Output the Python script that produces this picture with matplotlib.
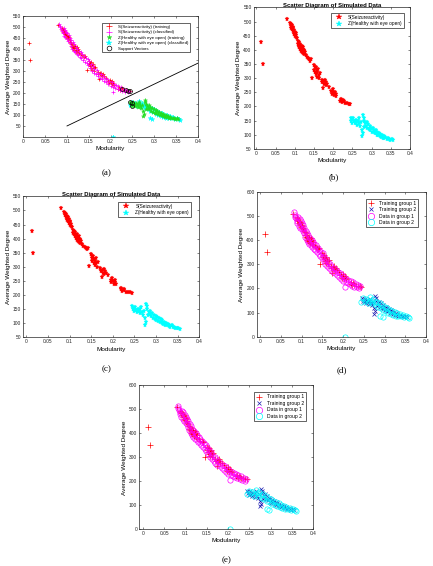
import numpy as np
import matplotlib
matplotlib.use("Agg")
import matplotlib.pyplot as plt

plt.rcParams['font.family'] = ['Liberation Sans', 'DejaVu Sans']

# S (seizure activity) training points: modularity, average weighted degree
s_train_mod = [0.012, 0.016, 0.080,
               0.088, 0.089, 0.090, 0.091, 0.092, 0.093, 0.094, 0.095, 0.096, 0.097, 0.098,
               0.099, 0.100, 0.101, 0.102, 0.103, 0.104,
               0.106, 0.108, 0.109, 0.110, 0.111, 0.112, 0.113, 0.114, 0.115, 0.116, 0.117,
               0.118, 0.119, 0.120, 0.121, 0.122, 0.123, 0.124, 0.125, 0.127, 0.128,
               0.132, 0.135, 0.138, 0.140, 0.142,
               0.145, 0.150, 0.151, 0.152, 0.153, 0.155, 0.156, 0.157, 0.158, 0.159, 0.160,
               0.162, 0.163, 0.165,
               0.170, 0.172, 0.174, 0.175, 0.177, 0.179, 0.180, 0.182, 0.185, 0.190,
               0.195, 0.197, 0.199, 0.200, 0.202, 0.204, 0.206, 0.208,
               0.218, 0.220, 0.222, 0.225, 0.227, 0.230, 0.235, 0.240, 0.244]
s_train_deg = [426, 350, 510,
               494, 485, 490, 478, 486, 472, 481, 468, 476, 462, 470,
               455, 463, 450, 458, 445, 452,
               440, 432, 420, 428, 415, 410, 422, 402, 412, 396, 408,
               415, 392, 402, 388, 410, 396, 385, 400, 392, 380,
               375, 370, 368, 362, 366,
               302, 345, 330, 338, 322, 340, 315, 328, 305, 320, 332,
               312, 300, 318,
               295, 285, 265, 290, 280, 292, 275, 285, 278, 270,
               255, 245, 260, 250, 240, 252, 245, 238,
               220, 225, 215, 222, 218, 212, 212, 210, 208]

# S test data (classified as group 1)
s_test_mod = [0.082, 0.083, 0.085, 0.086, 0.088, 0.090, 0.092, 0.093, 0.095, 0.096,
              0.098, 0.100, 0.101, 0.103, 0.104, 0.106, 0.107, 0.109, 0.110, 0.112,
              0.113, 0.115, 0.116, 0.118, 0.120, 0.122, 0.124, 0.126, 0.128, 0.130,
              0.131, 0.133, 0.135, 0.137, 0.139, 0.141, 0.143, 0.145, 0.147, 0.149,
              0.151, 0.153, 0.155, 0.157, 0.159, 0.161, 0.163, 0.166, 0.168, 0.170,
              0.172, 0.175, 0.177, 0.180, 0.182, 0.185, 0.187, 0.190, 0.192, 0.195,
              0.197, 0.200, 0.202, 0.205, 0.206, 0.208, 0.211, 0.213, 0.216, 0.218,
              0.221, 0.224, 0.227, 0.230, 0.233, 0.236, 0.239, 0.241]
s_test_deg = [515, 505, 498, 490, 480, 470, 495, 460, 488, 452,
              478, 445, 470, 438, 462, 428, 450, 415, 440, 400,
              430, 392, 420, 385, 410, 378, 400, 372, 392, 365,
              385, 358, 378, 350, 368, 342, 360, 335, 352, 325,
              345, 312, 332, 300, 322, 292, 310, 285, 302, 275,
              292, 270, 285, 262, 278, 255, 270, 248, 262, 240,
              255, 232, 248, 205, 228, 240, 222, 235, 218, 230,
              212, 225, 208, 220, 205, 215, 202, 210]

# Z (healthy with eye open) training points
z_train_mod = [0.245, 0.247, 0.249, 0.250, 0.252, 0.254, 0.256, 0.258, 0.260, 0.262,
               0.264, 0.266, 0.268, 0.270, 0.272, 0.274, 0.275, 0.277, 0.278, 0.279,
               0.280, 0.281, 0.283, 0.285, 0.287, 0.289, 0.291, 0.293, 0.295, 0.297,
               0.299, 0.301, 0.303, 0.305, 0.307, 0.309, 0.311, 0.313, 0.315, 0.317,
               0.319, 0.321, 0.323, 0.325, 0.327, 0.329, 0.331, 0.333, 0.336, 0.339,
               0.342, 0.345, 0.348, 0.352, 0.355]
z_train_deg = [160, 150, 155, 142, 158, 148, 140, 152, 145, 135,
               150, 158, 140, 130, 145, 118, 95, 105, 168, 160,
               150, 128, 140, 132, 145, 125, 138, 120, 130, 115,
               125, 110, 122, 108, 118, 105, 115, 100, 110, 98,
               106, 95, 102, 92, 98, 90, 95, 88, 92, 86,
               88, 84, 82, 84, 80]

# Z test data (classified as group 2)
z_test_mod = [0.205, 0.244, 0.248, 0.252, 0.256, 0.260, 0.263, 0.265, 0.268, 0.270,
              0.273, 0.276, 0.279, 0.282, 0.285, 0.288, 0.290, 0.291, 0.294, 0.295,
              0.297, 0.300, 0.303, 0.306, 0.309, 0.312, 0.315, 0.318, 0.321, 0.324,
              0.327, 0.330, 0.333, 0.336, 0.340, 0.344, 0.348, 0.352, 0.356, 0.360]
z_test_deg = [0, 145, 160, 150, 155, 140, 148, 165, 150, 138,
              155, 142, 130, 145, 125, 138, 85, 118, 132, 80,
              112, 125, 105, 118, 100, 112, 96, 108, 92, 102,
              88, 98, 86, 94, 84, 90, 82, 86, 80, 78]

# support vectors (panel a)
sv_mod = [0.227, 0.235, 0.240, 0.244, 0.245, 0.249, 0.250]
sv_deg = [218, 212, 210, 208, 160, 155, 142]

# SVM separating line (panel a)
line_mod = [0.1, 0.4]
line_deg = [50, 335]

fig = plt.figure(figsize=(4.33, 5.66), dpi=100)


def style_axes(ax, xlim, ylim, yticks, title=None):
    ax.set_xlim(*xlim)
    ax.set_ylim(*ylim)
    ax.set_xticks(np.arange(0, 0.41, 0.05))
    ax.set_xticklabels(['0', '0.05', '0.1', '0.15', '0.2', '0.25', '0.3', '0.35', '0.4'])
    ax.set_yticks(yticks)
    ax.tick_params(direction='in', length=1.5, width=0.4, labelsize=3.5,
                   top=True, right=True, pad=1.5, colors='#262626')
    for sp in ax.spines.values():
        sp.set_linewidth(0.5)
        sp.set_color('#262626')
    ax.set_xlabel('Modularity', fontsize=4.6, labelpad=1.5)
    ax.set_ylabel('Average Weighted Degree', fontsize=4.6, labelpad=1.5)
    if title:
        ax.set_title(title, fontsize=4.3, fontweight='bold', pad=0.6)


def add_legend(ax, anchor, fs, hlen=2.5, tpad=0.8):
    leg = ax.legend(loc='upper right', bbox_to_anchor=anchor, fontsize=fs,
                    fancybox=False, edgecolor='#262626', framealpha=1,
                    borderpad=0.4, handletextpad=tpad, labelspacing=0.3,
                    handlelength=hlen, markerscale=1.2)
    leg.get_frame().set_linewidth(0.5)


# (a) SVM training / classification
ax = fig.add_axes([0.054, 0.758, 0.403, 0.214])
ax.plot(s_train_mod, s_train_deg, ls='none', marker='+', color='red', ms=3.5, mew=0.5,
        label='S(Seizureactivity) (training)')
ax.plot(s_test_mod, s_test_deg, ls='none', marker='+', color='magenta', ms=3.5, mew=0.5,
        label='S(Seizureactivity) (classified)')
ax.plot(z_test_mod, z_test_deg, ls='none', marker='*', color='cyan', ms=3.5, mew=0.3,
        label='Z(Healthy with eye open) (classified)')
ax.plot(z_train_mod, z_train_deg, ls='none', marker='*', color='#22dd22', ms=3, mew=0.3,
        label='Z(Healthy with eye open) (training)')
ax.plot(sv_mod, sv_deg, ls='none', marker='o', mfc='none', mec='black', ms=2.8, mew=0.5,
        label='Support Vectors')
ax.plot(line_mod, line_deg, color='black', lw=0.6)
style_axes(ax, (0, 0.4), (0, 550), np.arange(50, 551, 50))
h, l = ax.get_legend_handles_labels()
order = [0, 1, 3, 2, 4]
leg = ax.legend([h[i] for i in order], [l[i] for i in order], loc='upper right',
                bbox_to_anchor=(0.97, 0.96), fontsize=3.2, fancybox=False,
                edgecolor='#262626', framealpha=1, borderpad=0.4, handletextpad=0.8,
                labelspacing=0.3, handlelength=2.5, markerscale=1.2)
leg.get_frame().set_linewidth(0.5)

# (b) and (c) scatter of simulated data
for rect, anchor in [([0.586, 0.737, 0.361, 0.250], (0.975, 0.976)),
                     ([0.054, 0.404, 0.406, 0.249], (0.966, 0.977))]:
    ax = fig.add_axes(rect)
    ax.plot(s_train_mod, s_train_deg, ls='none', marker='*', color='red', ms=3.6, mew=0.3,
            label='S(Seizureactivity)')
    ax.plot(z_train_mod, z_train_deg, ls='none', marker='*', color='cyan', ms=3.6, mew=0.3,
            label='Z(Healthy with eye open)')
    style_axes(ax, (-0.007, 0.4), (50, 550), np.arange(50, 551, 50),
               title='Scatter Diagram of Simulated Data')
    add_legend(ax, anchor, 3.4)

# (d) and (e) classification results
for rect in [[0.593, 0.405, 0.391, 0.256], [0.322, 0.065, 0.402, 0.254]]:
    ax = fig.add_axes(rect)
    ax.plot(s_train_mod, s_train_deg, ls='none', marker='+', color='red', ms=3.8, mew=0.5,
            label='Training group 1')
    ax.plot(z_train_mod, z_train_deg, ls='none', marker='x', color='#1a1ab0', ms=2.8, mew=0.5,
            label='Training group 2')
    ax.plot(s_test_mod, s_test_deg, ls='none', marker='o', mfc='none', mec='magenta',
            ms=3.8, mew=0.5, label='Data in group 1')
    ax.plot(z_test_mod, z_test_deg, ls='none', marker='o', mfc='none', mec='cyan',
            ms=3.8, mew=0.5, label='Data in group 2')
    style_axes(ax, (-0.008, 0.4), (0, 600), np.arange(0, 601, 100))
    add_legend(ax, (0.97, 0.97), 3.6, hlen=1.2, tpad=1.0)

# captions
for label, x, y in [('(a)', 107, 172.7), ('(b)', 334, 176.7), ('(c)', 107, 369),
                    ('(d)', 341.7, 370), ('(e)', 226.7, 560)]:
    fig.text(x / 433, 1 - y / 566, label, ha='center', va='center',
             fontsize=6.5, family='Liberation Serif')

fig.savefig('out.png', dpi=100)
